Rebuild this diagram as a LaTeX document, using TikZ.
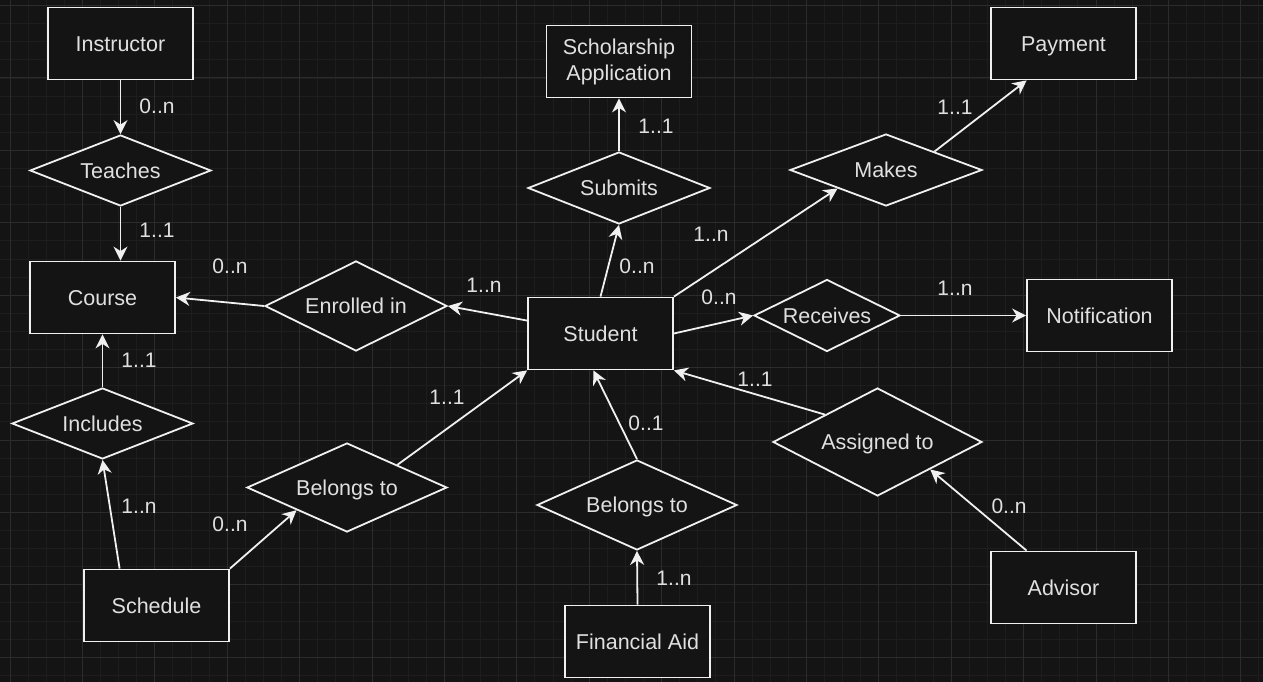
\documentclass[tikz,border=0pt]{standalone}
\usepackage{fontspec}
\setmainfont{Liberation Sans}
\usetikzlibrary{shapes.geometric,arrows.meta,calc}
\definecolor{bg}{HTML}{141414}
\definecolor{gminor}{HTML}{1D1D1D}
\definecolor{gmajor}{HTML}{2C2C2C}
\definecolor{ln}{HTML}{F0F0F0}
\definecolor{tx}{HTML}{E0E0E0}
\begin{document}
\begin{tikzpicture}[x=1pt,y=-1pt,
  ent/.style={draw=ln, line width=1.8pt, fill=bg, rectangle, minimum width=145pt, minimum height=72pt, inner sep=0pt, text=tx, font=\fontsize{21.5}{26}\selectfont, align=center, text height=15.4pt, text depth=0pt},
  rel/.style={draw=ln, line width=1.8pt, fill=bg, diamond, aspect=2, inner sep=0pt, text=tx, font=\fontsize{21.5}{26}\selectfont, text height=15.4pt, text depth=0pt},
  conn/.style={draw=ln, line width=1.8pt, -{Stealth[length=14pt,width=14pt,inset=4.5pt]}},
  card/.style={text=tx, font=\fontsize{21}{26}\selectfont, inner sep=0pt, text height=15pt, text depth=0pt},
  minorg/.style={draw=gminor, line width=0.9pt},
  majorg/.style={draw=gmajor, line width=1pt}]
\fill[bg] (0,0) rectangle (1263,682);
\useasboundingbox (0,0) rectangle (1263,682);
\begin{scope}
\clip (0,0) rectangle (1263,682);
\foreach \i in {-1,...,70} {\draw[minorg] ({10+18.1*\i},0) -- ({10+18.1*\i},682);}
\foreach \i in {-1,...,38} {\draw[minorg] (0,{5.6+18.1*\i}) -- (1263,{5.6+18.1*\i});}
\foreach \i in {0,...,18} {\draw[majorg] ({10+72.4*\i},0) -- ({10+72.4*\i},682);}
\foreach \i in {0,...,10} {\draw[majorg] (0,{5.6+72.4*\i}) -- (1263,{5.6+72.4*\i});}
\end{scope}

% entities
\node[ent] (instructor) at (120.5,43.5) {Instructor};
\node[ent] (course) at (102.5,297.5) {Course};
\node[ent] (schedule) at (156.5,605.5) {Schedule};
\node[ent] (student) at (600.5,333.5) {Student};
\node[ent, text height=, text depth=] (scholar) at (619,61.5) {Scholarship\\Application};
\node[ent] (payment) at (1063.5,43.5) {Payment};
\node[ent] (notif) at (1099.5,315.5) {Notification};
\node[ent] (advisor) at (1063.5,587.5) {Advisor};
\node[ent] (finaid) at (637.5,641.5) {Financial Aid};

% relationships
\node[rel, minimum width=181pt, minimum height=71pt] (teaches) at (120.5,170.5) {Teaches};
\node[rel, minimum width=181pt, minimum height=71pt] (includes) at (102.5,423.5) {Includes};
\node[rel, minimum width=200pt, minimum height=89pt] (belongsL) at (347,487.5) {Belongs to};
\node[rel, minimum width=182pt, minimum height=90pt] (enrolled) at (356,306) {Enrolled in};
\node[rel, minimum width=182pt, minimum height=72pt] (submits) at (619,188) {Submits};
\node[rel, minimum width=192pt, minimum height=72pt] (makes) at (886,170) {Makes};
\node[rel, minimum width=146pt, minimum height=72pt] (receives) at (827,315.5) {Receives};
\node[rel, minimum width=209pt, minimum height=108pt] (assigned) at (877.5,442) {Assigned to};
\node[rel, minimum width=200pt, minimum height=90pt] (belongsB) at (637,505) {Belongs to};

% connectors
\draw[conn] (instructor.south) -- (teaches.north);
\draw[conn] (teaches.south) -- (teaches.south |- course.north);
\draw[conn] (enrolled.west) -- (course.east);
\draw[conn] (student.170) -- (enrolled.east);
\draw[conn] (includes.north) -- (course.south);
\draw[conn] (schedule.135) -- (includes.south);
\draw[conn] (schedule.north east) -- (belongsL.south west);
\draw[conn] (belongsL.north east) -- (student.south west);
\draw[conn] (student.north) -- (submits.south);
\draw[conn] (submits.north) -- (scholar.south);
\draw[conn] (student.north east) -- (makes.south west);
\draw[conn] (makes.north east) -- (payment.225);
\draw[conn] (student.east) -- (receives.west);
\draw[conn] (receives.east) -- (notif.west);
\draw[conn] (assigned.north west) -- (student.south east);
\draw[conn] (advisor.135) -- (assigned.south east);
\draw[conn] (belongsB.north) -- (student.259);
\draw[conn] (finaid.north) -- (belongsB.south);

% cardinalities
\node[card] (c1) at (157,106) {0..n};
\node[card] (c2) at (157,230) {1..1};
\node[card] (c3) at (230,266) {0..n};
\node[card] (c4) at (484,285) {1..n};
\node[card] (c5) at (139,360) {1..1};
\node[card] (c6) at (139,506) {1..n};
\node[card] (c7) at (230,524) {0..n};
\node[card] (c8) at (447,397) {1..1};
\node[card] (c9) at (637,266) {0..n};
\node[card] (c10) at (656,126) {1..1};
\node[card] (c11) at (711,234) {1..n};
\node[card] (c12) at (955,107) {1..1};
\node[card] (c13) at (719,297) {0..n};
\node[card] (c14) at (955,288) {1..n};
\node[card] (c15) at (755,379) {1..1};
\node[card] (c16) at (1009,506) {0..n};
\node[card] (c17) at (646,423) {0..1};
\node[card] (c18) at (674,578) {1..n};
\end{tikzpicture}
\end{document}
